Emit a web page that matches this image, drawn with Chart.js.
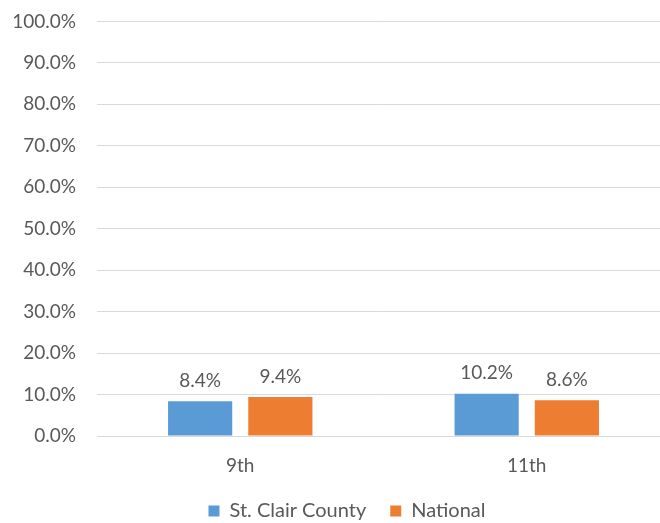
<!DOCTYPE html>
<html>
<head>
<meta charset="utf-8">
<script src="https://cdn.jsdelivr.net/npm/chart.js@4.4.0/dist/chart.umd.min.js"></script>
<style>
  html, body { margin: 0; padding: 0; background: #fff; overflow: hidden; }
  #wrap { width: 670px; height: 542px; margin-top: -11px; }
</style>
</head>
<body>
<div id="wrap"><canvas id="gradeChart"></canvas></div>
<script>
const grades = ['9th', '11th'];
const stClairValues = [8.4, 10.2];
const nationalValues = [9.4, 8.6];
const seriesNames = ['St. Clair County', 'National'];

const textColor = '#595959';
const fontFamily = 'Lato, "Open Sans", sans-serif';

// draws value labels above each bar
const barLabels = {
    id: 'barLabels',
    afterDatasetsDraw(chart){
        const ctx = chart.ctx;
        ctx.save();
        ctx.font = '19px ' + fontFamily;
        ctx.fillStyle = textColor;
        ctx.textAlign = 'center';
        ctx.textBaseline = 'bottom';
        chart.data.datasets.forEach(function(ds, i){
            chart.getDatasetMeta(i).data.forEach(function(bar, j){
                ctx.fillText(ds.data[j].toFixed(1) + '%', bar.x, bar.y - 11);
            });
        });
        ctx.restore();
    }
};

// nudge the legend a bit right, like the original
const legendShift = {
    id: 'legendShift',
    afterLayout(chart){
        chart.legend.left += 24;
    }
};

const chart = new Chart(document.getElementById('gradeChart').getContext('2d'), {
    type: 'bar',
    data: {
        labels: grades,
        datasets: [
            { label: seriesNames[0], data: stClairValues, backgroundColor: '#5b9bd5' },
            { label: seriesNames[1], data: nationalValues, backgroundColor: '#ed7d31' }
        ]
    },
    options: {
        responsive: true,
        maintainAspectRatio: false,
        animation: false,
        barPercentage: 0.8,
        categoryPercentage: 0.56,
        layout: { padding: { top: 0, bottom: 0, left: 0, right: 0 } },
        scales: {
            x: {
                afterFit(scale){ scale.height = 41; },
                grid: { display: false, drawTicks: false },
                border: { color: '#d9d9d9' },
                ticks: { color: textColor, font: { family: fontFamily, size: 19 }, padding: 18 }
            },
            y: {
                min: 0,
                max: 100,
                afterFit(scale){ scale.width = 97; },
                grid: { color: '#d9d9d9', drawTicks: false },
                border: { display: false },
                ticks: {
                    stepSize: 10,
                    color: textColor,
                    padding: 21,
                    font: { family: fontFamily, size: 19 },
                    callback: function(v){ return v.toFixed(1) + '%'; }
                }
            }
        },
        plugins: {
            tooltip: { enabled: false },
            legend: {
                position: 'bottom',
                labels: {
                    color: textColor,
                    font: { family: fontFamily, size: 20 },
                    boxWidth: 11,
                    boxHeight: 11,
                    padding: 24
                }
            }
        }
    },
    plugins: [barLabels, legendShift]
});
</script>
</body>
</html>
